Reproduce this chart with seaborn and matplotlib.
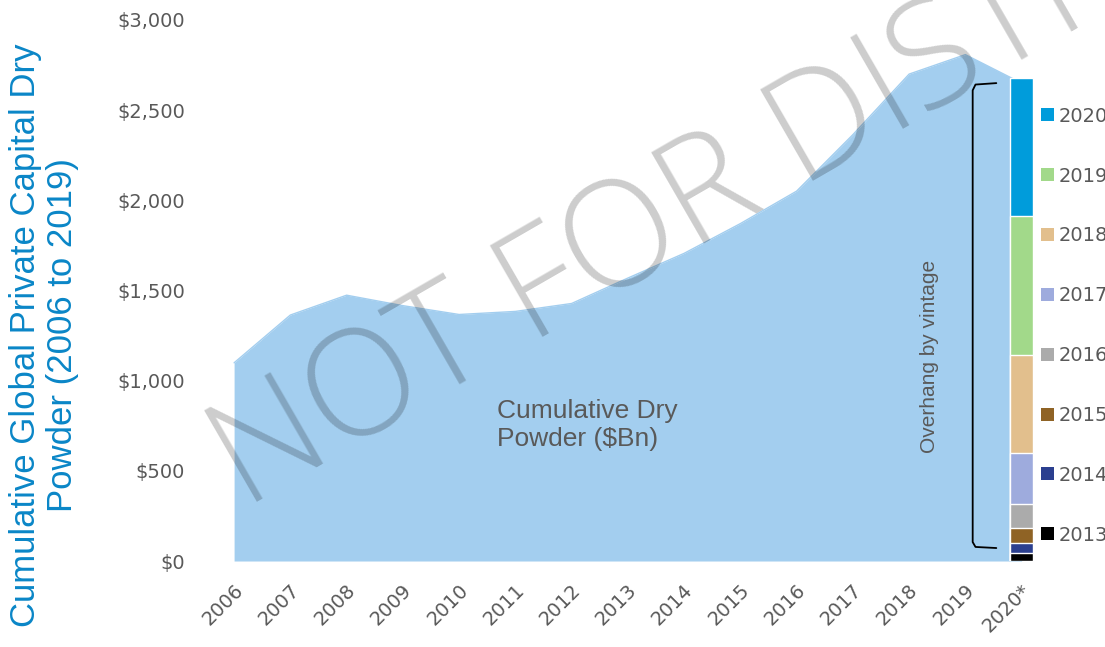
import numpy as np
import pandas as pd
import matplotlib.pyplot as plt
import matplotlib.transforms as mtransforms
import seaborn as sns
from matplotlib.patches import Patch
from matplotlib.ticker import FuncFormatter

# ── Datos ────────────────────────────────────────────────────────────────────
years = ["2006", "2007", "2008", "2009", "2010", "2011", "2012", "2013",
         "2014", "2015", "2016", "2017", "2018", "2019", "2020*"]
dry_powder = [1099, 1364, 1474, 1416, 1367, 1384, 1428, 1569,
              1706, 1871, 2051, 2364, 2700, 2808, 2650]

vintages = ["2013", "2014", "2015", "2016", "2017", "2018", "2019", "2020"]
overhang = [45, 55, 83, 131, 284, 545, 770, 767]
vintage_colors = ["#000000", "#2B3F8F", "#8F6325", "#ABABAB",
                  "#9EABDD", "#E2BF8D", "#A2D98A", "#009CDB"]

AREA = "#A3CEEF"
GREY = "#595959"
BLUE = "#0A86C7"

sns.set_theme(style="white")
plt.rcParams["font.family"] = ["DejaVu Sans"]

fig = plt.figure(figsize=(11.05, 6.47), dpi=100)
ax = fig.add_axes([0.1864, 0.1329, 0.7636, 0.8362])

# barra apilada del overhang (se dibujan acumulados, el mas alto primero)
cum = np.cumsum(overhang)
for val, col in zip(cum[::-1], vintage_colors[::-1]):
    df_bar = pd.DataFrame({"year": ["2020*"], "value": [val]})
    sns.barplot(data=df_bar, x="year", y="value", order=years, color=col,
                saturation=1, width=0.41, errorbar=None, ax=ax, zorder=3)

# area del dry powder acumulado
x = np.arange(len(years))
ax.fill_between(x, dry_powder, color=AREA, lw=0, zorder=1)
sns.lineplot(x=x, y=dry_powder, color=AREA, lw=1, ax=ax, zorder=1)

ax.set_xlim(-0.5, len(years) - 0.5)
ax.set_ylim(0, 3000)
ax.set_yticks(range(0, 3001, 500))
ax.yaxis.set_major_formatter(FuncFormatter(lambda v, _: f"${v:,.0f}"))
ax.set_xlabel("")
ax.set_ylabel("")
sns.despine(ax=ax, left=True, bottom=True)
ax.tick_params(axis="both", length=0, colors=GREY, labelsize=14)
ax.tick_params(axis="y", pad=15)
ax.tick_params(axis="x", pad=19)
shift = mtransforms.ScaledTranslation(6 / 100, 0, fig.dpi_scale_trans)
for lab in ax.get_xticklabels():
    lab.set_rotation(45)
    lab.set_ha("right")
    lab.set_va("center")
    lab.set_rotation_mode("anchor")
    lab.set_transform(lab.get_transform() + shift)

# textos
ax.text(4.68, 754, "Cumulative Dry\nPowder ($Bn)", ha="left", va="center",
        fontsize=19, color=GREY, family="Liberation Sans", linespacing=1.25, zorder=4)
ax.text(12.37, 1136, "Overhang by vintage", rotation=90, ha="center", va="center",
        fontsize=15, color=GREY, family="Liberation Sans", zorder=4)

# llave del overhang
ax.plot([13.55, 13.18, 13.13, 13.13, 13.18, 13.55],
        [2650, 2642, 2610, 105, 78, 72], color="black", lw=1.3, zorder=4)

fig.text(0.040, 0.482, "Cumulative Global Private Capital Dry\nPowder (2006 to 2019)",
         rotation=90, ha="center", va="center", multialignment="center",
         fontsize=25, color=BLUE, family="Liberation Sans", linespacing=1.15)

# leyenda
handles = [Patch(facecolor=c, edgecolor="none", label=v)
           for v, c in zip(vintages[::-1], vintage_colors[::-1])]
fig.legend(handles=handles, loc="upper left", bbox_to_anchor=(0.935, 0.847),
           frameon=False, fontsize=14, labelcolor=GREY, handlelength=0.65,
           handleheight=0.65, handletextpad=0.25, labelspacing=2.1, borderaxespad=0)

# marca de agua
fig.text(0.2217, 0.2133, "NOT FOR DISTRIBUTION", rotation=30, rotation_mode="anchor",
         ha="left", va="baseline", fontsize=106, color="black", alpha=0.2,
         family="Open Sans", fontweight="light", zorder=10)

fig.savefig("out.png", dpi=100)
